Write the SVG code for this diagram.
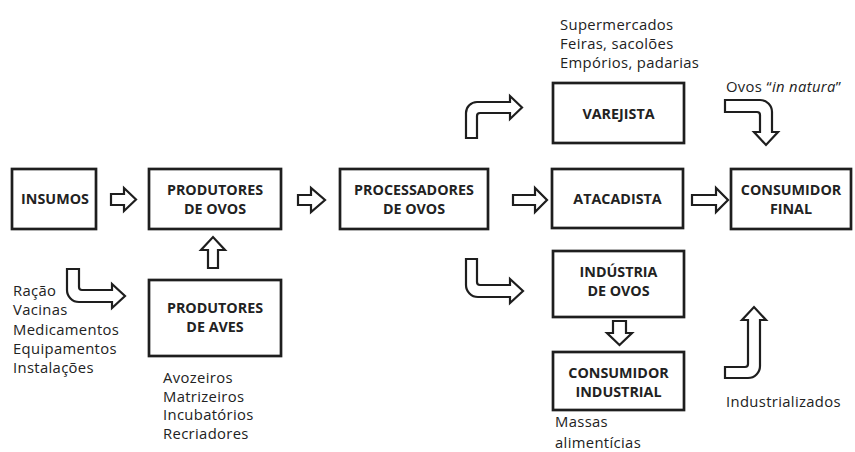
<svg xmlns="http://www.w3.org/2000/svg" width="855" height="452" viewBox="0 0 855 452">
<style>
.box{fill:#fff;stroke:#1e1e1e;stroke-width:2.7}
.bt{font-family:"Open Sans","Liberation Sans",sans-serif;font-weight:bold;font-size:14.3px;fill:#222;text-anchor:middle}
.lt{font-family:"Open Sans","Liberation Sans",sans-serif;font-size:14.8px;fill:#222;letter-spacing:0.35px}
.ar{fill:#fff;stroke:#1e1e1e;stroke-width:2.2;stroke-linejoin:miter}
</style>
<rect width="855" height="452" fill="#fff"/>
<g id="insumos"><rect class="box" x="12" y="169" width="84" height="60"/><text class="bt" x="55" y="204">INSUMOS</text></g>
<g id="produtores-ovos"><rect class="box" x="149" y="169" width="132" height="60"/><text class="bt" x="215" y="195">PRODUTORES</text><text class="bt" x="215" y="214">DE OVOS</text></g>
<g id="produtores-aves"><rect class="box" x="149" y="280" width="132" height="76"/><text class="bt" x="215" y="313">PRODUTORES</text><text class="bt" x="215" y="332">DE AVES</text></g>
<g id="processadores"><rect class="box" x="340" y="169" width="148" height="60"/><text class="bt" x="414" y="195">PROCESSADORES</text><text class="bt" x="414" y="214">DE OVOS</text></g>
<g id="varejista"><rect class="box" x="553" y="83" width="131" height="60"/><text class="bt" x="618.5" y="118.5">VAREJISTA</text></g>
<g id="atacadista"><rect class="box" x="552" y="169" width="131" height="59"/><text class="bt" x="617.5" y="204">ATACADISTA</text></g>
<g id="consumidor-final"><rect class="box" x="731" y="169" width="120" height="60"/><text class="bt" x="791" y="195">CONSUMIDOR</text><text class="bt" x="791" y="214">FINAL</text></g>
<g id="industria"><rect class="box" x="553" y="251" width="131" height="66"/><text class="bt" x="618.5" y="277">INDÚSTRIA</text><text class="bt" x="618.5" y="296">DE OVOS</text></g>
<g id="consumidor-industrial"><rect class="box" x="553" y="352" width="131" height="58"/><text class="bt" x="618.5" y="378">CONSUMIDOR</text><text class="bt" x="618.5" y="397">INDUSTRIAL</text></g>
<g id="connectors">
<path class="ar" d="M111,194 H124 V188 L136,199.5 L124,211 V205 H111 Z"/>
<path class="ar" d="M298,195 H311 V188 L325,200 L311,212 V205 H298 Z"/>
<path class="ar" d="M513,195 H535 V188 L547,200 L535,212 V205 H513 Z"/>
<path class="ar" d="M692,195 H716 V188 L728,200 L716,212 V205 H692 Z"/>
<path class="ar" d="M208,268 V250 H201 L213,237 L225,250 H218 V268 Z"/>
<path class="ar" d="M613,321 V333 H607 L619.5,345 L632,333 H626 V321 Z"/>
<path class="ar" d="M67,269 V290 A12,12 0 0 0 79,302 H112 V308 L125,296 L112,284 V290 H82 A3,3 0 0 1 79,287 V269 Z"/>
<path class="ar" d="M466,138 V113 A11,11 0 0 1 477,102 H510 V96 L522,107.5 L510,119 V113 H480 A3,3 0 0 0 477,116 V138 Z"/>
<path class="ar" d="M466,259 V285 A12,12 0 0 0 478,297 H510 V303 L523,291 L510,279 V285 H480 A3,3 0 0 1 477,282 V259 Z"/>
<path class="ar" d="M725,100 H760 A12,12 0 0 1 772,112 V132 H778 L766,145 L754,132 H760 V115 A3,3 0 0 0 757,112 H725 Z"/>
<path class="ar" d="M725,378 H748 A12,12 0 0 0 760,366 V320 H766 L754,307 L742,320 H748 V364 A3,3 0 0 1 745,367 H725 Z"/>
</g>
<g id="labels">
<text class="lt" x="13" y="296">Ração</text>
<text class="lt" x="13" y="315">Vacinas</text>
<text class="lt" x="13" y="334.5">Medicamentos</text>
<text class="lt" x="13" y="354">Equipamentos</text>
<text class="lt" x="13" y="373">Instalações</text>
<text class="lt" x="163" y="383">Avozeiros</text>
<text class="lt" x="163" y="401.7">Matrizeiros</text>
<text class="lt" x="163" y="420.3">Incubatórios</text>
<text class="lt" x="163" y="439">Recriadores</text>
<text class="lt" x="560" y="30">Supermercados</text>
<text class="lt" x="560" y="49">Feiras, sacolões</text>
<text class="lt" x="560" y="68">Empórios, padarias</text>
<text class="lt" x="726" y="92">Ovos “<tspan font-style="italic">in natura</tspan>”</text>
<text class="lt" x="726" y="407">Industrializados</text>
<text class="lt" x="555" y="427">Massas</text>
<text class="lt" x="555" y="447.5">alimentícias</text>
</g>
</svg>
